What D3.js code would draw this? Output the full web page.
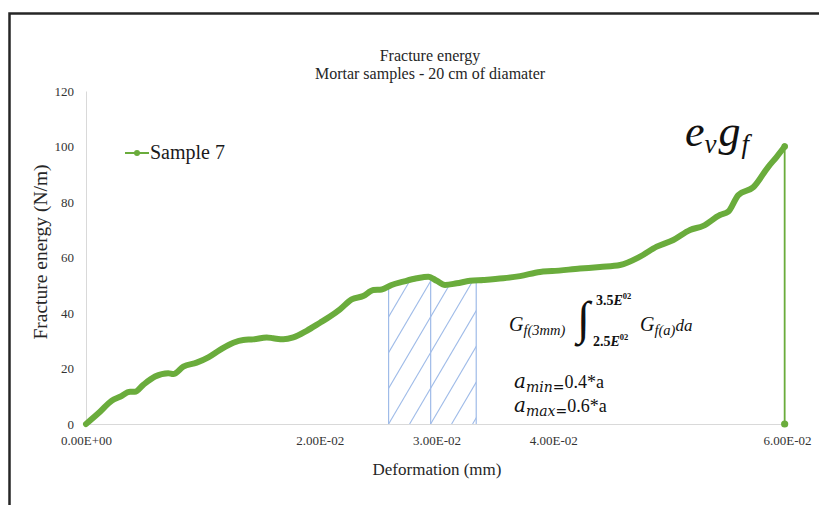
<!DOCTYPE html>
<html>
<head>
<meta charset="utf-8">
<script src="https://cdn.jsdelivr.net/npm/d3@7"></script>
<style>
  html, body { margin: 0; padding: 0; background: #fff; }
  svg text { font-family: "Liberation Serif", "Times New Roman", serif; }
</style>
</head>
<body>
<svg id="chart" width="819" height="505"></svg>
<script>
// Deformation (mm) of sample 7
const deformation = [
  0, 0.00120, 0.00220, 0.00291, 0.00377, 0.00419, 0.00490, 0.00591, 0.00704, 0.00747,
  0.00833, 0.00947, 0.01047, 0.01147, 0.01261, 0.01346, 0.01432, 0.01547, 0.01603, 0.01689,
  0.01774, 0.01889, 0.02003, 0.02088, 0.02174, 0.02274, 0.02373, 0.02459, 0.02531, 0.02616,
  0.02716, 0.02830, 0.02930, 0.03002, 0.03073, 0.03173, 0.03287, 0.03401, 0.03572, 0.03715,
  0.03886, 0.03989, 0.04228, 0.04400, 0.04571, 0.04742, 0.04885, 0.05027, 0.05170, 0.05283,
  0.05426, 0.05497, 0.05583, 0.05711, 0.05840, 0.05912, 0.05980, 0.05980
];
// Fracture energy (N/m) of sample 7
const energy = [
  0, 4.4, 8.4, 9.8, 11.6, 11.6, 14.1, 17.1, 18.3, 18.0,
  20.7, 22.1, 24.0, 26.7, 29.3, 30.3, 30.5, 31.2, 30.9, 30.5,
  31.2, 33.6, 36.5, 38.7, 41.3, 44.9, 46.1, 48.3, 48.5, 50.1,
  51.3, 52.5, 53.1, 51.6, 50.1, 50.7, 51.6, 51.9, 52.5, 53.3,
  54.8, 55.1, 56.0, 56.6, 57.3, 60.3, 63.9, 66.3, 69.9, 71.4,
  75.3, 76.5, 82.5, 85.3, 92.7, 96.3, 100, 0
];
const xTicks = [0, 0.02, 0.03, 0.04, 0.06];
const xTickLabels = ["0.00E+00", "2.00E-02", "3.00E-02", "4.00E-02", "6.00E-02"];
const yTicks = [0, 20, 40, 60, 80, 100, 120];
// Integration window and its midpoint (mm)
const band = [0.0259, 0.0295, 0.0334];
const seriesName = "Sample 7";

const green = "#6aac3c";
const svg = d3.select("#chart");

// frame
svg.append("path").attr("d", "M9.5,505 V13.5 H819")
  .attr("fill", "none").attr("stroke", "#262626").attr("stroke-width", 2.5);

const x = d3.scaleLinear().domain([0, 0.06]).range([86, 787]);
const y = d3.scaleLinear().domain([0, 120]).range([424, 91]);

// axes
const xAxis = svg.append("g").attr("transform", `translate(0,${y(0)})`)
  .call(d3.axisBottom(x).tickValues(xTicks).tickSize(0).tickPadding(12)
    .tickFormat((d, i) => xTickLabels[i]));
const yAxis = svg.append("g").attr("transform", `translate(${x(0)},0)`)
  .call(d3.axisLeft(y).tickValues(yTicks).tickSize(0).tickPadding(12));
[xAxis, yAxis].forEach(g => {
  g.select(".domain").attr("stroke", "#d9d9d9").attr("stroke-width", 1);
  g.selectAll("text").attr("font-family", "Liberation Serif").attr("font-size", 13).attr("fill", "#333");
});

// titles
svg.append("text").attr("x", 430).attr("y", 61).attr("text-anchor", "middle")
  .attr("font-size", 16).attr("fill", "#262626").text("Fracture energy");
svg.append("text").attr("x", 430).attr("y", 79).attr("text-anchor", "middle")
  .attr("font-size", 16).attr("fill", "#262626").text("Mortar samples - 20 cm of diamater");
svg.append("text").attr("transform", "translate(47,252) rotate(-90)").attr("text-anchor", "middle")
  .attr("font-size", 19.5).attr("fill", "#262626").text("Fracture energy (N/m)");
svg.append("text").attr("x", 437).attr("y", 475).attr("text-anchor", "middle")
  .attr("font-size", 17).attr("fill", "#262626").text("Deformation (mm)");

// hatched integration band under the curve
const pts = deformation.map((d, i) => [d, energy[i]]);
const curvePts = pts.slice(0, -1);
const yAt = d3.scaleLinear().domain(curvePts.map(p => p[0])).range(curvePts.map(p => p[1]));
const bandPts = [[band[0], yAt(band[0])]]
  .concat(curvePts.filter(p => p[0] > band[0] && p[0] < band[2]))
  .concat([[band[2], yAt(band[2])]]);
const bandArea = d3.area().x(p => x(p[0])).y0(y(0)).y1(p => y(p[1]));
svg.append("clipPath").attr("id", "bandClip").append("path").attr("d", bandArea(bandPts));
const hatch = svg.append("g").attr("clip-path", "url(#bandClip)");
const hatchColor = "#9fbbe8";
const rise = y(0) - y(60);
for (let k = -8; k < 8; k++) {
  const x0 = x(band[0]) + k * 21;
  hatch.append("line").attr("x1", x0).attr("y1", y(0))
    .attr("x2", x0 + rise / 1.7).attr("y2", y(60))
    .attr("stroke", hatchColor).attr("stroke-width", 1.1);
}
band.forEach(b => {
  svg.append("line").attr("x1", x(b)).attr("x2", x(b))
    .attr("y1", y(0)).attr("y2", y(yAt(b)))
    .attr("stroke", hatchColor).attr("stroke-width", 1.2);
});

// series: dense marker trace, then the drop to zero at the end
const line = d3.line().x(p => x(p[0])).y(p => y(p[1])).curve(d3.curveMonotoneX);
svg.append("path").attr("d", line(curvePts)).attr("fill", "none")
  .attr("stroke", green).attr("stroke-width", 6)
  .attr("stroke-linejoin", "round").attr("stroke-linecap", "round");
const last2 = pts.slice(-2);
svg.append("line")
  .attr("x1", x(last2[0][0])).attr("y1", y(last2[0][1]))
  .attr("x2", x(last2[1][0])).attr("y2", y(last2[1][1]))
  .attr("stroke", green).attr("stroke-width", 1.8);
svg.append("circle").attr("cx", x(last2[1][0])).attr("cy", y(last2[1][1])).attr("r", 3.6).attr("fill", green);
svg.append("circle").attr("cx", x(last2[0][0])).attr("cy", y(last2[0][1])).attr("r", 3.2).attr("fill", green);

// legend
const lg = svg.append("g");
lg.append("line").attr("x1", 125).attr("x2", 149).attr("y1", 153).attr("y2", 153)
  .attr("stroke", green).attr("stroke-width", 2);
lg.append("circle").attr("cx", 137).attr("cy", 153).attr("r", 3).attr("fill", green);
lg.append("text").attr("x", 150).attr("y", 159).attr("font-size", 20).attr("fill", "#1a1a1a").text(seriesName);

// end-point annotation
const math = "DejaVu Serif";
const ev = svg.append("text").attr("x", 685).attr("y", 146).attr("font-style", "italic")
  .attr("font-family", math).attr("fill", "#111");
ev.append("tspan").attr("font-size", 44).text("e");
ev.append("tspan").attr("font-size", 27).attr("dy", 7).text("v");
ev.append("tspan").attr("font-size", 44).attr("dy", -7).attr("dx", 2).text("g");
ev.append("tspan").attr("font-size", 27).attr("dy", 7).attr("dx", 1).text("f");

// integral annotation
const g1 = svg.append("text").attr("x", 509).attr("y", 331).attr("font-family", math)
  .attr("font-style", "italic").attr("fill", "#111");
g1.append("tspan").attr("font-size", 20).text("G");
g1.append("tspan").attr("font-size", 14.5).attr("dy", 4).text("f(3mm)");
svg.append("text").attr("x", 577).attr("y", 334).attr("font-family", math)
  .attr("font-size", 47).attr("fill", "#111").text("∫");
const up = svg.append("text").attr("x", 596).attr("y", 305).attr("font-family", math)
  .attr("font-size", 14).attr("font-weight", "bold").attr("fill", "#111");
up.append("tspan").text("3.5");
up.append("tspan").attr("font-style", "italic").text("E");
up.append("tspan").attr("font-size", 8.5).attr("dy", -6).text("02");
const lo = svg.append("text").attr("x", 593).attr("y", 346).attr("font-family", math)
  .attr("font-size", 14).attr("font-weight", "bold").attr("fill", "#111");
lo.append("tspan").text("2.5");
lo.append("tspan").attr("font-style", "italic").text("E");
lo.append("tspan").attr("font-size", 8.5).attr("dy", -6).text("02");
const g2 = svg.append("text").attr("x", 640).attr("y", 331).attr("font-family", math)
  .attr("font-style", "italic").attr("fill", "#111");
g2.append("tspan").attr("font-size", 20).text("G");
g2.append("tspan").attr("font-size", 14.5).attr("dy", 4).text("f(a)");
g2.append("tspan").attr("font-size", 17).attr("dy", -4).text("da");

[["min", "0.4*a", 388], ["max", "0.6*a", 412]].forEach(([sub, val, yy]) => {
  const t = svg.append("text").attr("x", 514).attr("y", yy).attr("fill", "#111");
  t.append("tspan").attr("font-family", math).attr("font-style", "italic").attr("font-size", 20).text("a");
  t.append("tspan").attr("font-family", math).attr("font-style", "italic").attr("font-size", 14).attr("dy", 4).text(sub + "=");
  t.append("tspan").attr("font-family", "Liberation Serif").attr("font-size", 18).attr("dy", -4).text(val);
});
</script>
</body>
</html>
